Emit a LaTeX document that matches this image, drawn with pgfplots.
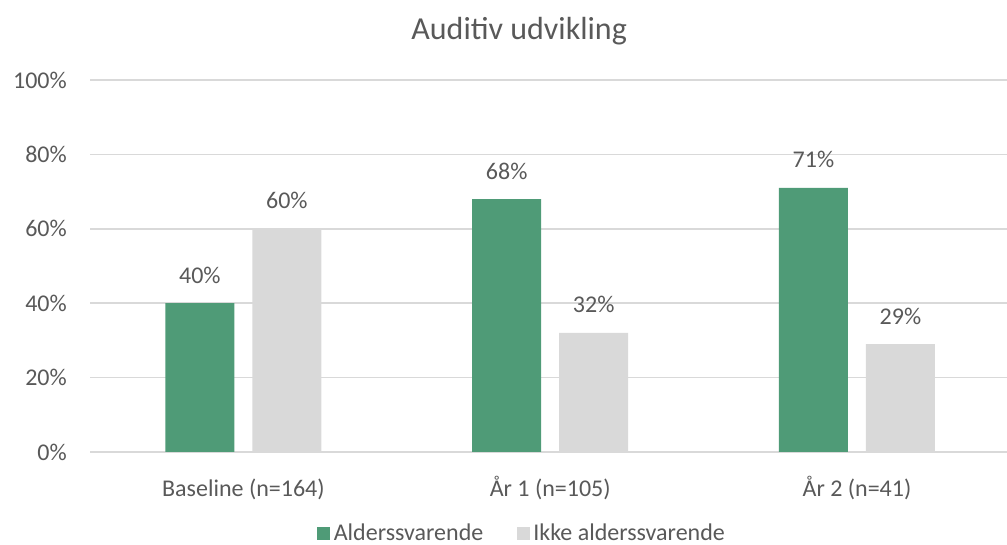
\documentclass[border=0pt]{standalone}
\usepackage{pgfplots}
\pgfplotsset{compat=1.18}
\usepackage{fontspec}
\setmainfont{Carlito}
\definecolor{grn}{HTML}{4F9B77}
\definecolor{gry}{HTML}{D9D9D9}
\definecolor{txt}{HTML}{595959}
\begin{document}
\begin{tikzpicture}[x=1pt,y=1pt]
\useasboundingbox (0,0) rectangle (1007,545);
\begin{axis}[
  at={(90pt,93pt)}, anchor=south west,
  scale only axis, width=917pt, height=372pt,
  xmin=-0.5, xmax=2.489, ymin=0, ymax=100,
  ybar=18pt, bar width=69pt,
  xtick={0,1,2},
  xticklabels={Baseline (n=164), År 1 (n=105), År 2 (n=41)},
  ytick={0,20,40,60,80,100},
  yticklabels={0\%,20\%,40\%,60\%,80\%,100\%},
  axis line style={draw=none},
  tick style={draw=none},
  ymajorgrids, grid style={gry, line width=1.5pt},
  /pgf/number format/assume math mode=true,
  tick label style={font=\fontsize{24}{28}\selectfont, text=txt, inner sep=0pt},
  yticklabel style={anchor=east, xshift=-23pt},
  xticklabel style={anchor=base, yshift=-40pt},
  nodes near coords={\pgfmathprintnumber{\pgfplotspointmeta}\%},
  nodes near coords style={font=\fontsize{24}{28}\selectfont, text=txt, anchor=base, yshift=20pt, inner sep=0pt},
  title={Auditiv udvikling},
  title style={at={(0.468,1.115)}, anchor=center, font=\fontsize{32}{36}\selectfont, text=txt},
  legend columns=2,
  legend style={at={(0.472,-0.218)}, anchor=center, draw=none, fill=none,
    inner sep=0pt, nodes={inner ysep=0pt, inner xsep=3.5pt},
    font=\fontsize{24}{28}\selectfont, text=txt,
    /tikz/every even column/.append style={column sep=30pt}},
  legend image code/.code={\fill[#1] (0pt,-6.5pt) rectangle (13pt,6.5pt);},
  clip=false,
]
\addplot[fill=grn, draw=none] coordinates {(0,40) (1,68) (2,71)};
\addplot[fill=gry, draw=none] coordinates {(0,60) (1,32) (2,29)};
\legend{Alderssvarende, Ikke alderssvarende}
\end{axis}
\end{tikzpicture}
\end{document}
